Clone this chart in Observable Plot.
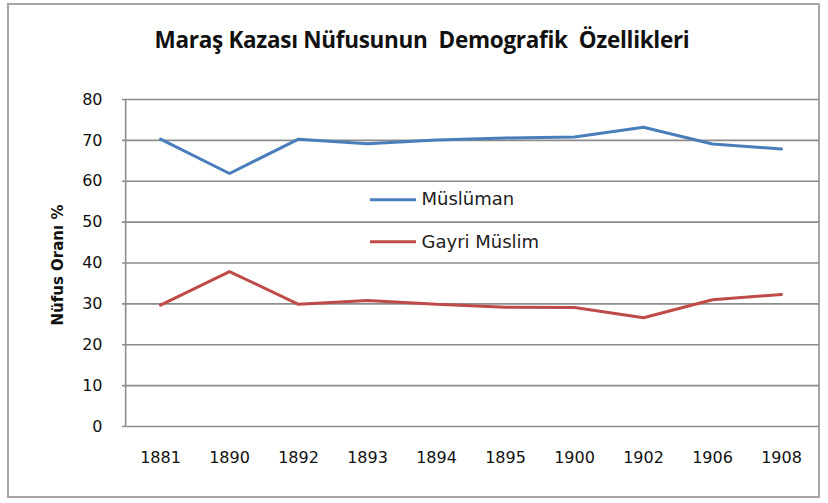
<!DOCTYPE html>
<html>
<head>
<meta charset="utf-8">
<script src="https://cdn.jsdelivr.net/npm/d3@7"></script>
<script src="https://cdn.jsdelivr.net/npm/@observablehq/plot@0.6"></script>
<style>
  html, body { margin: 0; padding: 0; background: #fff; }
  #wrap { position: relative; width: 828px; height: 503px; overflow: hidden; }
  #frame { position: absolute; left: 7px; top: 3px; width: 813px; height: 495px; border: 2px solid #a6a6a6; box-sizing: border-box; }
  #title { position: absolute; left: 0; width: 844px; top: 24px; text-align: center; font-family: "Open Sans", sans-serif; font-weight: 700; font-size: 22.5px; color: #111; letter-spacing: -0.3px; white-space: pre; }
  #chart { position: absolute; left: 0; top: 0; }
</style>
</head>
<body>
<div id="wrap">
  <div id="frame"></div>
  <div id="chart"></div>
  <div id="title">Maraş Kazası Nüfusunun  Demografik  Özellikleri</div>
</div>
<script>
const years = ["1881", "1890", "1892", "1893", "1894", "1895", "1900", "1902", "1906", "1908"];
const muslim = [70.3, 61.9, 70.3, 69.2, 70.1, 70.6, 70.8, 73.2, 69.1, 67.9];
const nonMuslim = [29.7, 37.9, 29.9, 30.8, 29.9, 29.2, 29.1, 26.6, 31.0, 32.3];
const seriesNames = ["Müslüman", "Gayri Müslim"];
const seriesColors = ["#4a7ebb", "#be4b48"];
const yTicks = [0, 10, 20, 30, 40, 50, 60, 70, 80];

const data = [];
years.forEach((y, i) => {
  data.push({year: y, value: muslim[i], series: seriesNames[0]});
  data.push({year: y, value: nonMuslim[i], series: seriesNames[1]});
});

const legend = [
  {series: seriesNames[0], yv: 55.5},
  {series: seriesNames[1], yv: 45.2}
];

const chart = Plot.plot({
  width: 828,
  height: 503,
  marginLeft: 122,
  marginRight: 9,
  marginTop: 99,
  marginBottom: 77,
  style: {fontFamily: "DejaVu Sans, sans-serif", fontSize: "16px", color: "#111", background: "transparent"},
  x: {type: "point", domain: years, padding: 0.5, label: null},
  y: {domain: [0, 80], ticks: yTicks, label: null},
  color: {domain: seriesNames, range: seriesColors},
  marks: [
    Plot.ruleY(yTicks, {stroke: "#8c8c8c", strokeWidth: 1.6}),
    Plot.ruleX([0], {x: () => years[0], dx: -34.85, y1: 0, y2: 80, stroke: "#8c8c8c", strokeWidth: 1.6}),
    Plot.axisY({ticks: yTicks, tickSize: 0, tickPadding: 20, fontSize: 16, label: null}),
    Plot.axisX({tickSize: 0, tickPadding: 25, fontSize: 16, label: null}),
    Plot.line(data, {x: "year", y: "value", z: "series", stroke: "series", strokeWidth: 3, strokeLinejoin: "miter"}),
    Plot.text(["Nüfus Oranı %"], {frameAnchor: "left", textAnchor: "middle", dx: -64, y: 39.5, rotate: -90, fontSize: 15, fill: "#111", fontWeight: "bold"})
  ]
});

const legendPlot = Plot.plot({
  width: 828, height: 503,
  marginLeft: 122, marginRight: 9, marginTop: 99, marginBottom: 77,
  style: {fontFamily: "DejaVu Sans, sans-serif", fontSize: "18px", background: "transparent"},
  x: {domain: [0, 828], range: [0, 828], axis: null},
  y: {domain: [0, 80], axis: null},
  color: {domain: seriesNames, range: seriesColors},
  marks: [
    Plot.ruleY(legend, {y: "yv", x1: () => 370, x2: () => 416, stroke: "series", strokeWidth: 3}),
    Plot.text(legend, {y: "yv", x: () => 421, text: "series", textAnchor: "start", fill: "#222", fontSize: 18})
  ]
});
legendPlot.style.position = "absolute";
legendPlot.style.left = "0px";
legendPlot.style.top = "0px";
document.getElementById("chart").append(chart);
document.getElementById("chart").append(legendPlot);
</script>
</body>
</html>
